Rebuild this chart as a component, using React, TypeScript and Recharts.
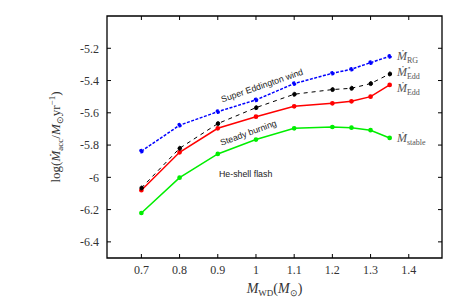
import React from 'react';
import {
  LineChart,
  Line,
  XAxis,
  YAxis,
  ReferenceDot,
  Label,
} from 'recharts';

// white dwarf mass (M_sun)
const massWD = [0.7, 0.8, 0.9, 1.0, 1.1, 1.2, 1.25, 1.3, 1.35];
// log accretion rates
const mdotRG = [-5.838, -5.677, -5.593, -5.52, -5.419, -5.355, -5.33, -5.289, -5.25];
const mdotEddStar = [-6.066, -5.82, -5.667, -5.568, -5.485, -5.456, -5.448, -5.419, -5.359];
const mdotEdd = [-6.08, -5.845, -5.696, -5.624, -5.56, -5.541, -5.529, -5.5, -5.427];
const mdotStable = [-6.221, -6.002, -5.855, -5.766, -5.696, -5.688, -5.692, -5.708, -5.756];

const xTicks = [0.7, 0.8, 0.9, 1.0, 1.1, 1.2, 1.3, 1.4];
const yTicks = [-6.4, -6.2, -6.0, -5.8, -5.6, -5.4, -5.2];

const X_MIN = 0.61;
const X_MAX = 1.487;
const Y_MIN = -6.5;
const Y_MAX = -5.0;

const W = 463;
const H = 301;
const margin = { top: 16, right: 21, left: 47, bottom: 13 };
const Y_AXIS_W = 60;
const X_AXIS_H = 30;

const serif = "'Liberation Serif', 'Times New Roman', serif";
const sans = "'Liberation Sans', Arial, sans-serif";

const data = massWD.map((m, i) => ({
  m,
  rg: mdotRG[i],
  eddStar: mdotEddStar[i],
  edd: mdotEdd[i],
  stable: mdotStable[i],
}));

// plot box, same as recharts lays out from the margins above
const plotL = margin.left + Y_AXIS_W;
const plotT = margin.top;
const plotW = W - margin.right - plotL;
const plotH = H - margin.bottom - X_AXIS_H - plotT;
const px = (v: number) => plotL + ((v - X_MIN) / (X_MAX - X_MIN)) * plotW;
const py = (v: number) => plotT + ((Y_MAX - v) / (Y_MAX - Y_MIN)) * plotH;
const TICK = 4;

// gnuplot-style frame with inward ticks on all four sides
const Frame = () => (
  <svg
    width={W}
    height={H}
    style={{ position: 'absolute', left: 0, top: 0, zIndex: 10, pointerEvents: 'none' }}
  >
    <path
      d={`M${plotL},${plotT} H${plotL + plotW} V${plotT + plotH} H${plotL} Z`}
      fill="none"
      stroke="#000"
      strokeWidth={1.3}
    />
    {xTicks.map((t) => (
      <path
        key={'x' + t}
        d={`M${px(t)},${plotT + plotH} v${-TICK} M${px(t)},${plotT} v${TICK}`}
        stroke="#000"
        strokeWidth={1}
        fill="none"
      />
    ))}
    {yTicks.map((t) => (
      <path
        key={'y' + t}
        d={`M${plotL},${py(t)} h${TICK} M${plotL + plotW},${py(t)} h${-TICK}`}
        stroke="#000"
        strokeWidth={1}
        fill="none"
      />
    ))}
  </svg>
);

const MdotLabel = ({ cx, cy, sub, star }: any) => (
  <text x={cx} y={cy + 4} fontFamily={serif} fill="#555">
    <tspan fontStyle="italic" fontSize={12}>Ṁ</tspan>
    {star && (
      <tspan x={cx + 10} dy={-6} fontSize={7}>⋆</tspan>
    )}
    <tspan x={cx + 10} dy={star ? 9 : 3} fontSize={8}>{sub}</tspan>
  </text>
);

const Annot = ({ cx, cy, text, angle }: any) => (
  <text
    x={cx}
    y={cy}
    textAnchor="middle"
    dominantBaseline="central"
    fontFamily={sans}
    fontSize={8.8}
    fill="#222"
    transform={angle ? `rotate(${angle}, ${cx}, ${cy})` : undefined}
  >
    {text}
  </text>
);

const XTitle = ({ viewBox }: any) => {
  const x = viewBox.x + viewBox.width / 2;
  const y = viewBox.y + 35;
  return (
    <text x={x} y={y} textAnchor="middle" fontFamily={serif} fontSize={14} fill="#333">
      <tspan fontStyle="italic">M</tspan>
      <tspan fontSize={9} dy={3}>WD</tspan>
      <tspan dy={-3}>(</tspan>
      <tspan fontStyle="italic">M</tspan>
      <tspan fontSize={9} dy={3}>⊙</tspan>
      <tspan dy={-3}>)</tspan>
    </text>
  );
};

const YTitle = ({ viewBox }: any) => {
  const x = viewBox.x + 13;
  const y = viewBox.y + viewBox.height / 2;
  return (
    <text
      x={x}
      y={y}
      textAnchor="middle"
      fontFamily={serif}
      fontSize={13}
      fill="#333"
      transform={`rotate(-90, ${x}, ${y})`}
    >
      log(
      <tspan fontStyle="italic">Ṁ</tspan>
      <tspan fontSize={9} dy={3}>acc</tspan>
      <tspan dy={-3}>/</tspan>
      <tspan fontStyle="italic">M</tspan>
      <tspan fontSize={9} dy={3}>⊙</tspan>
      <tspan dy={-3}>yr</tspan>
      <tspan fontSize={9} dy={-5}>−1</tspan>
      <tspan dy={5}>)</tspan>
    </text>
  );
};

const App = () => {
  return (
    <div style={{ position: 'absolute', left: 0, top: 0, width: W, height: H }}>
      <LineChart width={W} height={H} data={data} margin={margin}>
        <XAxis
          dataKey="m"
          type="number"
          domain={[X_MIN, X_MAX]}
          allowDataOverflow
          ticks={xTicks}
          tickLine={false}
          tickSize={0}
          tickMargin={7}
          height={X_AXIS_H}
          axisLine={false}
          tick={{ fontFamily: serif, fontSize: 12, fill: '#333' }}
        >
          <Label content={<XTitle />} />
        </XAxis>
        <YAxis
          type="number"
          domain={[Y_MIN, Y_MAX]}
          allowDataOverflow
          ticks={yTicks}
          tickLine={false}
          tickSize={0}
          tickMargin={8}
          width={Y_AXIS_W}
          axisLine={false}
          tick={{ fontFamily: serif, fontSize: 12, fill: '#333' }}
        >
          <Label content={<YTitle />} />
        </YAxis>

        <Line
          dataKey="stable"
          stroke="#00ee00"
          strokeWidth={1.5}
          dot={{ r: 1.6, fill: '#00ee00', stroke: '#00ee00' }}
          isAnimationActive={false}
        />
        <Line
          dataKey="edd"
          stroke="#ff0000"
          strokeWidth={1.5}
          dot={{ r: 1.6, fill: '#ff0000', stroke: '#ff0000' }}
          isAnimationActive={false}
        />
        <Line
          dataKey="eddStar"
          stroke="#000"
          strokeWidth={1}
          strokeDasharray="4 4"
          dot={{ r: 2, fill: '#000', stroke: '#000' }}
          isAnimationActive={false}
        />
        <Line
          dataKey="rg"
          stroke="#0000ff"
          strokeWidth={1.5}
          strokeDasharray="3 1.5"
          dot={{ r: 1.6, fill: '#0000ff', stroke: '#0000ff' }}
          isAnimationActive={false}
        />

        <ReferenceDot x={1.016} y={-5.431} r={0} ifOverflow="visible"
          shape={(p: any) => <Annot {...p} text="Super Eddington wind" angle={-19} />} />
        <ReferenceDot x={0.98} y={-5.724} r={0} ifOverflow="visible"
          shape={(p: any) => <Annot {...p} text="Steady burning" angle={-20} />} />
        <ReferenceDot x={0.973} y={-5.981} r={0} ifOverflow="visible"
          shape={(p: any) => <Annot {...p} text="He-shell flash" angle={0} />} />

        <ReferenceDot x={1.369} y={-5.245} r={0} ifOverflow="visible"
          shape={(p: any) => <MdotLabel {...p} sub="RG" />} />
        <ReferenceDot x={1.369} y={-5.349} r={0} ifOverflow="visible"
          shape={(p: any) => <MdotLabel {...p} sub="Edd" star />} />
        <ReferenceDot x={1.369} y={-5.446} r={0} ifOverflow="visible"
          shape={(p: any) => <MdotLabel {...p} sub="Edd" />} />
        <ReferenceDot x={1.369} y={-5.758} r={0} ifOverflow="visible"
          shape={(p: any) => <MdotLabel {...p} sub="stable" />} />
      </LineChart>
      <Frame />
    </div>
  );
};

export default App;
